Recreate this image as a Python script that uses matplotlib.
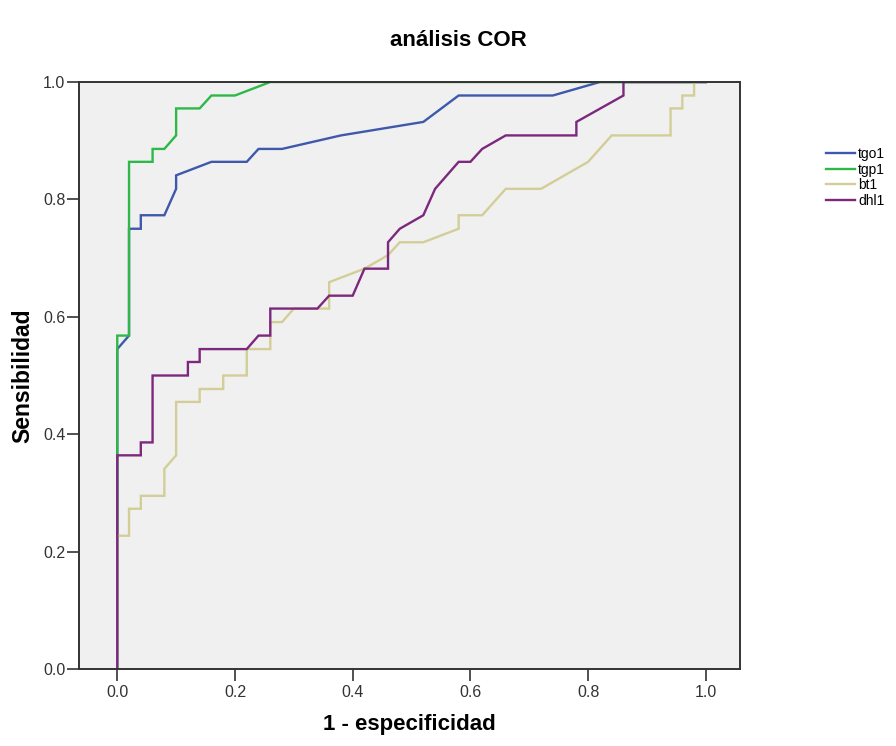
import matplotlib
matplotlib.use("Agg")
import matplotlib.pyplot as plt

plt.rcParams['font.family'] = ['Liberation Sans', 'DejaVu Sans']

series_names = ["tgo1", "tgp1", "bt1", "dhl1"]
series_colors = ["#3E58AC", "#2EB848", "#D3CE97", "#7C287D"]

tgo1_fpr = [0, 0, 0.02, 0.02, 0.04, 0.04, 0.08, 0.10, 0.10, 0.16, 0.22, 0.24, 0.28, 0.38, 0.52, 0.58, 0.74, 0.82, 1.0]
tgo1_tpr = [0, 0.545, 0.568, 0.75, 0.75, 0.773, 0.773, 0.818, 0.841, 0.864, 0.864, 0.886, 0.886, 0.909, 0.932, 0.977, 0.977, 1.0, 1.0]

tgp1_fpr = [0, 0, 0.02, 0.02, 0.06, 0.06, 0.08, 0.10, 0.10, 0.14, 0.16, 0.20, 0.26, 1.0]
tgp1_tpr = [0, 0.568, 0.568, 0.864, 0.864, 0.886, 0.886, 0.909, 0.955, 0.955, 0.977, 0.977, 1.0, 1.0]

bt1_fpr = [0, 0, 0.02, 0.02, 0.04, 0.04, 0.08, 0.08, 0.10, 0.10, 0.14, 0.14, 0.18, 0.18, 0.22, 0.22,
           0.26, 0.26, 0.28, 0.30, 0.36, 0.36, 0.42, 0.46, 0.48, 0.52, 0.58, 0.58, 0.62, 0.66, 0.72,
           0.80, 0.84, 0.94, 0.94, 0.96, 0.96, 0.98, 0.98, 1.0]
bt1_tpr = [0, 0.227, 0.227, 0.273, 0.273, 0.295, 0.295, 0.341, 0.364, 0.455, 0.455, 0.477, 0.477, 0.5, 0.5, 0.545,
           0.545, 0.591, 0.591, 0.614, 0.614, 0.659, 0.682, 0.705, 0.727, 0.727, 0.75, 0.773, 0.773, 0.818, 0.818,
           0.864, 0.909, 0.909, 0.955, 0.955, 0.977, 0.977, 1.0, 1.0]

dhl1_fpr = [0, 0, 0.04, 0.04, 0.06, 0.06, 0.12, 0.12, 0.14, 0.14, 0.22, 0.24, 0.26, 0.26, 0.34, 0.36,
            0.40, 0.42, 0.46, 0.46, 0.48, 0.52, 0.54, 0.58, 0.60, 0.62, 0.66, 0.78, 0.78, 0.86, 0.86, 1.0]
dhl1_tpr = [0, 0.364, 0.364, 0.386, 0.386, 0.5, 0.5, 0.523, 0.523, 0.545, 0.545, 0.568, 0.568, 0.614, 0.614, 0.636,
            0.636, 0.682, 0.682, 0.727, 0.75, 0.773, 0.818, 0.864, 0.864, 0.886, 0.909, 0.909, 0.932, 0.977, 1.0, 1.0]

x_ticks = [0.0, 0.2, 0.4, 0.6, 0.8, 1.0]
y_ticks = [0.0, 0.2, 0.4, 0.6, 0.8, 1.0]
tick_labels = ["0.0", "0.2", "0.4", "0.6", "0.8", "1.0"]

fig = plt.figure(figsize=(8.96, 7.46), dpi=100)
ax = fig.add_axes([79/896, 77/746, 661/896, 587/746])
ax.set_facecolor("#F0F0F0")

curves = [(tgo1_fpr, tgo1_tpr), (tgp1_fpr, tgp1_tpr), (bt1_fpr, bt1_tpr), (dhl1_fpr, dhl1_tpr)]
handles = []
for (fx, ty), name, col in zip(curves, series_names, series_colors):
    h, = ax.plot(fx, ty, color=col, lw=1.7, label=name, solid_joinstyle='miter')
    handles.append(h)

ax.set_xlim(-0.065, 1.058)
ax.set_ylim(0, 1.0)
ax.set_xticks(x_ticks)
ax.set_xticklabels(tick_labels)
ax.set_yticks(y_ticks)
ax.set_yticklabels(tick_labels)
ax.tick_params(direction='out', length=8.3, width=1.2, color='#333333', labelsize=11.5,
               labelcolor='#333333')
ax.tick_params(axis='x', pad=3)
ax.tick_params(axis='y', pad=1.5)
for sp in ax.spines.values():
    sp.set_color('#333333')
    sp.set_linewidth(1.4)

ax.set_xlabel("1 - especificidad", fontsize=16, fontweight='bold', labelpad=10)
ax.set_ylabel("Sensibilidad", fontsize=16.5, fontweight='bold', labelpad=6)

fig.text(458/896, 1 - 40/746, "análisis COR", fontsize=16, fontweight='bold',
         ha='center', va='center')

fig.legend(handles=handles, labels=series_names, loc='upper left',
           bbox_to_anchor=(826/896, 1 - 147/746), frameon=False, fontsize=10,
           handlelength=2.1, handletextpad=0.2, labelspacing=0.12, borderpad=0,
           borderaxespad=0)

fig.savefig("out.png", dpi=100, facecolor='white')
